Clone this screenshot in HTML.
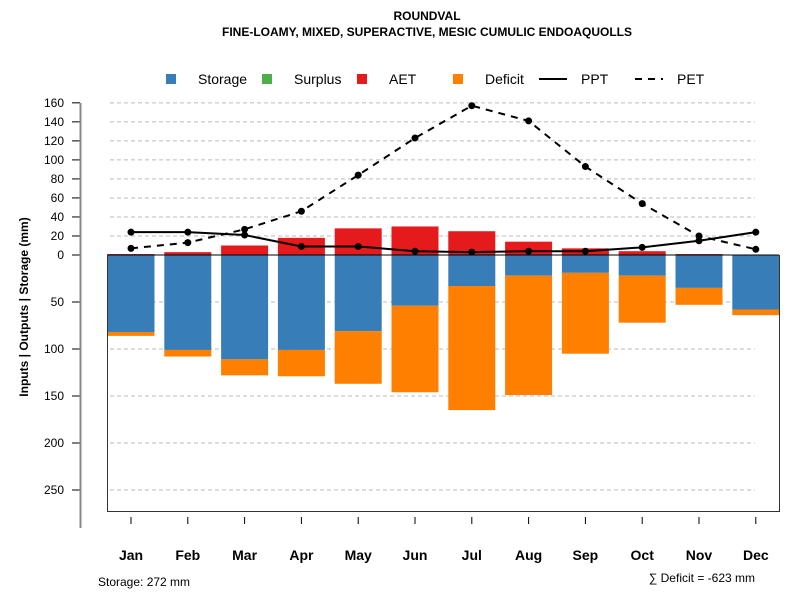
<!DOCTYPE html>
<html><head><meta charset="utf-8"><style>
body{margin:0;background:#fff}
svg text{font-family:"Liberation Sans",sans-serif}
</style></head><body>
<svg id="c" width="800" height="600" xmlns="http://www.w3.org/2000/svg">
<text x="427" y="20" text-anchor="middle" font-size="12" font-weight="bold">ROUNDVAL</text>
<text x="427" y="36" text-anchor="middle" font-size="12" font-weight="bold">FINE-LOAMY, MIXED, SUPERACTIVE, MESIC CUMULIC ENDOAQUOLLS</text>
<g>
<rect x="166" y="74" width="10" height="10" fill="#377eb8"/>
<text x="198" y="84" font-size="14">Storage</text>
<rect x="262" y="74" width="10" height="10" fill="#4daf4a"/>
<text x="294" y="84" font-size="14">Surplus</text>
<rect x="357" y="74" width="10" height="10" fill="#e41a1c"/>
<text x="389" y="84" font-size="14">AET</text>
<rect x="453" y="74" width="10" height="10" fill="#ff7f00"/>
<text x="485" y="84" font-size="14">Deficit</text>
<line x1="539" y1="79" x2="567" y2="79" stroke="#000" stroke-width="2"/>
<text x="581" y="84" font-size="14">PPT</text>
<line x1="635" y1="79" x2="663" y2="79" stroke="#000" stroke-width="2" stroke-dasharray="7,6"/>
<text x="677" y="84" font-size="14">PET</text>
</g>
<text transform="translate(28,307) rotate(-90)" text-anchor="middle" font-size="12" font-weight="bold">Inputs | Outputs | Storage    (mm)</text>
<g id="grid"></g><g id="bars"></g><g id="lines"></g><g id="axes"></g>
<text x="98" y="586" font-size="12">Storage: 272 mm</text>
<text x="755" y="582" text-anchor="end" font-size="12">∑ Deficit = -623 mm</text>
</svg>
<script>
const months=["Jan","Feb","Mar","Apr","May","Jun","Jul","Aug","Sep","Oct","Nov","Dec"];
const storage=[82,101,111,101,81,54,33,22,19,22,35,58];
const deficit=[4,7,17,28,56,92,132,127,86,50,18,6];
const aet=[1,3,10,18,28,30,25,14,7,4,1,0];
const ppt=[24,24,21,9,9,4,3,4,4,8,15,24];
const pet=[7,13,27,46,84,123,157,141,93,54,20,6];
const upTicks=[20,40,60,80,100,120,140,160];
const downTicks=[50,100,150,200,250];
const NS="http://www.w3.org/2000/svg";
const y0=255;
function yUp(v){return y0-v*0.951;}
function yDown(v){return y0+v*0.94;}
function xC(i){return 131+i*56.8;}
function mk(tag,attrs,parent,text){const e=document.createElementNS(NS,tag);for(const k in attrs)e.setAttribute(k,attrs[k]);if(text!==undefined)e.textContent=text;document.getElementById(parent).appendChild(e);return e;}
// grid + y ticks
function ytick(y,label){
  const g=mk("line",{x1:110,x2:755,y1:y,y2:y,stroke:"#bbb","stroke-dasharray":"4,3"},"grid");
  
  
  const t=mk("line",{x1:72,x2:80,y1:y,y2:y,stroke:"#000"},"axes");
  
  
  const l=mk("text",{x:64,y:y+4,"text-anchor":"end","font-size":12},"axes",label);
  
  
}
ytick(y0,"0");
upTicks.forEach(v=>ytick(yUp(v),String(v)));
downTicks.forEach(v=>ytick(yDown(v),String(v)));
// bars
const bw=47;
months.forEach((m,i)=>{
  const x=xC(i)-bw/2;
  const s=mk("rect",{x:x,y:y0,width:bw,height:yDown(storage[i])-y0,fill:"#377eb8"},"bars");
  
  
  const d=mk("rect",{x:x,y:yDown(storage[i]),width:bw,height:yDown(storage[i]+deficit[i])-yDown(storage[i]),fill:"#ff7f00"},"bars");
  
  
  const a=mk("rect",{x:x,y:yUp(aet[i]),width:bw,height:y0-yUp(aet[i]),fill:"#e41a1c"},"bars");
  
  
  const tk=mk("line",{x1:xC(i),x2:xC(i),y1:517,y2:524,stroke:"#000"},"axes");
  
  
  const lb=mk("text",{x:xC(i),y:560,"text-anchor":"middle","font-size":14,"font-weight":"bold"},"axes",m);
  
  
});
// zero line and box
const z=mk("line",{x1:107,x2:779,y1:y0,y2:y0,stroke:"#000"},"lines");


const box=mk("path",{d:"M107.5 "+y0+" V511.5 H779.5 V"+y0,fill:"none",stroke:"#333"},"axes");


const ax=mk("line",{x1:80.5,x2:80.5,y1:103,y2:528,stroke:"#888","stroke-width":2},"axes");


// lines
function series(vals,name,dash){
  const pts=vals.map((v,i)=>xC(i)+","+yUp(v)).join(" ");
  const attrs={points:pts,fill:"none",stroke:"#000","stroke-width":2};
  if(dash)attrs["stroke-dasharray"]=dash;
  const p=mk("polyline",attrs,"lines");
  
  
  vals.forEach((v,i)=>{
    const c=mk("circle",{cx:xC(i),cy:yUp(v),r:3.5,fill:"#000"},"lines");
    
    
  });
}
series(ppt,"ppt",null);
series(pet,"pet","7,6");
</script>
</body></html>
